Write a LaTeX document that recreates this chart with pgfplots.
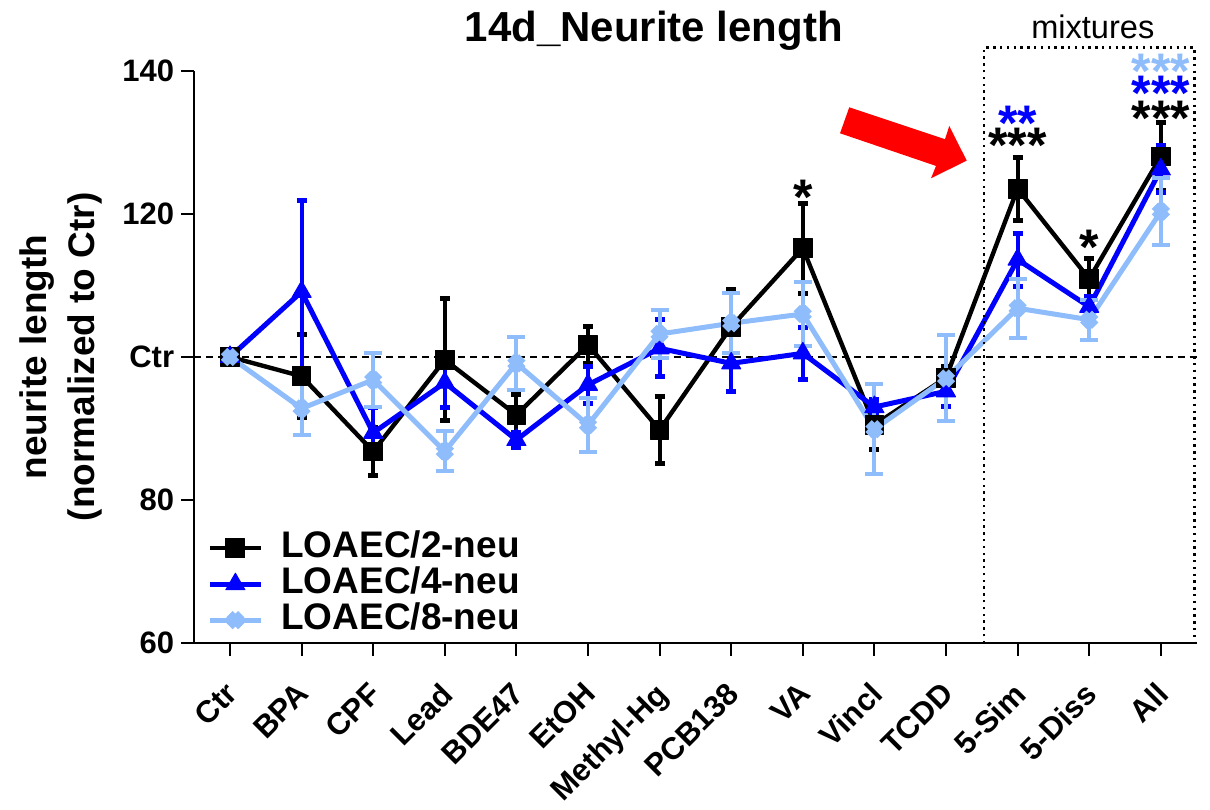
\documentclass[border=0pt]{standalone}
\usepackage{fontspec}
\setmainfont{Liberation Sans}
\usepackage{pgfplots}
\pgfplotsset{compat=1.18}
\usepackage{pgfplotstable}

\definecolor{neuBlue}{RGB}{0,0,255}
\definecolor{neuLight}{RGB}{143,188,250}

% x: 0=Ctr ... 13=All ; y: mean ; e: error
\pgfplotstableread{
x y e
0 100.0 0.0
1 97.3 5.8
2 86.8 3.4
3 99.6 8.5
4 91.9 2.9
5 101.7 2.6
6 89.8 4.7
7 104.2 5.2
8 115.2 6.3
9 90.5 3.5
10 97.1 1.5
11 123.5 4.4
12 110.9 2.9
13 128.0 4.7
}\twoneu

\pgfplotstableread{
x y e
0 100.0 0.0
1 109.1 12.7
2 89.4 3.6
3 96.4 3.5
4 88.4 1.0
5 96.1 2.6
6 101.2 4.0
7 99.1 4.0
8 100.5 3.6
9 93.0 1.0
10 95.2 2.1
11 113.6 3.7
12 107.0 1.5
13 126.2 3.3
}\fourneu

\pgfplotstableread{
x y e
0 100.0 0.0
1 92.8 3.7
2 96.8 3.8
3 86.8 2.8
4 99.1 3.7
5 90.5 3.8
6 103.2 3.4
7 104.7 4.2
8 106.0 4.5
9 89.9 6.3
10 97.0 6.0
11 106.8 4.1
12 105.2 2.8
13 120.3 4.7
}\eightneu

\begin{document}
\begin{tikzpicture}
\begin{axis}[
    scale only axis,
    width=501.5pt, height=286.5pt,
    xmin=-0.5, xmax=13.5, ymin=60, ymax=140,
    clip=false,
    axis x line*=bottom, axis y line*=left,
    axis line style={line width=1pt},
    xtick={0,...,13},
    xticklabels={Ctr,BPA,CPF,Lead,BDE47,EtOH,Methyl-Hg,PCB138,VA,Vincl,TCDD,5-Sim,5-Diss,All},
    ytick={60,80,100,120,140},
    yticklabels={60,80,Ctr,120,140},
    tick align=outside, major tick length=6.5pt,
    tick style={line width=1pt, black},
    yticklabel style={font=\bfseries\fontsize{15.5}{18}\selectfont},
    xticklabel style={font=\bfseries\fontsize{15.5}{18}\selectfont, inner sep=0pt, xshift=-3pt, yshift=-12pt, rotate=45, anchor=north east},
    legend cell align=left,
    legend style={at={(axis cs:-0.321,75.84)}, anchor=north west, draw=none, fill=none,
        inner sep=0pt, font=\bfseries\fontsize{18.5}{22}\selectfont,
        nodes={inner sep=0pt, text height=13.5pt, text depth=4.5pt},
        /tikz/every odd column/.append style={column sep=9pt}},
    legend image code/.code={\draw[mark repeat=2,mark phase=2] plot coordinates {(0pt,0pt) (12.75pt,0pt) (25.5pt,0pt)};},
]
\addplot[black, line width=1pt, dash pattern=on 3.5pt off 2.5pt, forget plot] coordinates {(-0.5,100) (13.5,100)};

\addplot[black, line width=2.2pt, line join=round, mark=square*, mark size=4.7pt, mark options={solid, line width=0.5pt},
    error bars/.cd, y dir=both, y explicit,
    error bar style={line width=2pt, solid},
    error mark options={rotate=90, mark size=2.5pt, line width=2.5pt}]
    table[x=x, y=y, y error=e] {\twoneu};
\addlegendentry{LOAEC/2-neu}

\addplot[neuBlue, line width=2.5pt, line join=round, mark=triangle*, mark size=5.5pt, mark options={solid, line width=0.5pt},
    error bars/.cd, y dir=both, y explicit,
    error bar style={line width=2pt, solid},
    error mark options={rotate=90, mark size=2.5pt, line width=2.5pt}]
    table[x=x, y=y, y error=e] {\fourneu};
\addlegendentry{LOAEC/4-neu}

\addplot[neuLight, line width=2.5pt, line join=round, mark=x, mark size=4.2pt, mark options={solid, line width=4.5pt},
    error bars/.cd, y dir=both, y explicit,
    error bar style={line width=2pt, solid},
    error mark options={rotate=90, mark size=4.5pt, line width=2pt}]
    table[x=x, y=y, y error=e] {\eightneu};
\addlegendentry{LOAEC/8-neu}

% mixtures box
\draw[black, line width=1.2pt, dash pattern=on 1.2pt off 2.2pt]
    (axis cs:10.53,60) -- (axis cs:10.53,143.2) -- (axis cs:13.47,143.2) -- (axis cs:13.47,60);
\node[font=\fontsize{16.3}{19}\selectfont, anchor=base] at (axis cs:12.05,144.55) {mixtures};

% title and y label
\node[font=\bfseries\fontsize{21}{24}\selectfont, anchor=base] at (axis cs:5.92,144.0) {14d\_Neurite length};
\node[rotate=90, align=center, font=\bfseries\fontsize{18.5}{24}\selectfont] at (axis cs:-2.36,100)
    {neurite length\\(normalized to Ctr)};

% red arrow
\fill[red] (axis cs:8.649,134.87) -- (axis cs:8.520,131.24) -- (axis cs:9.860,126.68)
    -- (axis cs:9.791,124.96) -- (axis cs:10.289,127.42) -- (axis cs:10.046,132.26)
    -- (axis cs:9.986,130.41) -- cycle;

% significance stars
\tikzset{sig/.style={font=\bfseries\fontsize{25}{25}\selectfont, anchor=base, inner sep=0pt, yshift=-12pt}}
\node[sig, black] at (axis cs:8,123.3) {*};
\node[sig, black] at (axis cs:11,130.5) {***};
\node[sig, neuBlue] at (axis cs:11,133.6) {**};
\node[sig, black] at (axis cs:12,116.3) {*};
\node[sig, black] at (axis cs:13,134.3) {***};
\node[sig, neuBlue] at (axis cs:13,137.8) {***};
\node[sig, neuLight] at (axis cs:13,140.8) {***};

\coordinate (bbtl) at (axis cs:-3.212,149.86);
\coordinate (bbbr) at (axis cs:13.687,36.73);
\end{axis}
\pgfresetboundingbox
\path[use as bounding box] (bbtl) rectangle (bbbr);
\end{tikzpicture}
\end{document}
